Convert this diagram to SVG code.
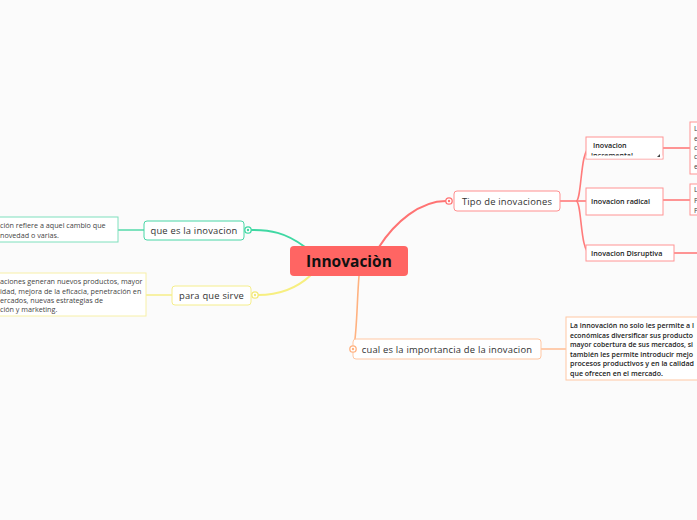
<svg xmlns="http://www.w3.org/2000/svg" width="697" height="520" viewBox="0 0 697 520">
<style>
text{font-family:"Open Sans","Noto Sans",sans-serif;fill:#333}
.t{font-size:9.4px;letter-spacing:0.2px}
.s{font-size:7.2px;fill:#444}
.sb{font-size:7.2px;font-weight:600;fill:#222}
.red{fill:#fff;stroke:#ff9494;stroke-width:1}
.rl{fill:none;stroke:#ff7b7b;stroke-width:1.6}
</style>
<rect width="697" height="520" fill="#fbfbfb"/>
<g id="connectors" fill="none">
<path d="M379 247 C395 222,420 201,446 201" stroke="#ff7373" stroke-width="2"/>
<path d="M305 247 C285 232,270 230,251 230" stroke="#3fd8a3" stroke-width="2"/>
<path d="M311 275 C295 290,275 295,258 295" stroke="#f7ef80" stroke-width="2"/>
<path d="M359 276 C357 300,357 330,354 346" stroke="#ffb280" stroke-width="1.6"/>
<path d="M560 201 L576 201" class="rl"/>
<path d="M576 201 C582 201,580 148,590 148 L586 148" class="rl"/>
<path d="M576 201 L586 201" class="rl"/>
<path d="M576 201 C582 201,580 253,590 253 L586 253" class="rl"/>
<path d="M663 148 L690 148" class="rl"/>
<path d="M663 200 L690 200" class="rl"/>
<path d="M674 253 L697 253" class="rl"/>
<path d="M541 349 L566 349" stroke="#ffc09a" stroke-width="1.6"/>
<path d="M144 230 L118 230" stroke="#5fdcb0" stroke-width="1.6"/>
<path d="M172 295 L146 295" stroke="#f7ef90" stroke-width="1.6"/>
</g>
<g id="center">
<rect x="290" y="246" width="118" height="30" rx="4" fill="#ff6563"/>
<text x="349" y="267" text-anchor="middle" style="font-size:15.5px;font-weight:bold;fill:#111">Innovaciòn</text>
</g>
<g id="tipo">
<rect x="454" y="191" width="106" height="20" rx="3" fill="#fff" stroke="#ff8f8f"/>
<circle cx="449" cy="201" r="3.2" fill="#fff" stroke="#ff7373" stroke-width="1.3"/>
<circle cx="449" cy="201" r="1.2" fill="#ff7373"/>
<text x="507" y="204.5" text-anchor="middle" class="t">Tipo de inovaciones</text>
</g>
<g id="incremental">
<rect x="586" y="137" width="77" height="22" class="red"/>
<text x="593" y="147.5" class="sb">Inovacion</text>
<text x="591" y="157.5" class="sb">incremental</text>
<rect x="586.5" y="155.5" width="76" height="3" fill="#fff"/>
<path d="M660 154 L660 157 L657 157 Z" fill="#444"/>
</g>
<g id="incremental-note">
<rect x="690" y="122" width="20" height="52" class="red"/>
<text x="694" y="131" class="s">L</text>
<text x="694" y="141" class="s">e</text>
<text x="694" y="150" class="s">c</text>
<text x="694" y="159" class="s">c</text>
<text x="694" y="169" class="s">e</text>
</g>
<g id="radical">
<rect x="586" y="188" width="77" height="27" class="red"/>
<text x="591" y="204" class="sb">Inovacion radical</text>
</g>
<g id="radical-note">
<rect x="690" y="184" width="20" height="31" class="red"/>
<text x="694" y="192" class="s">L</text>
<text x="694" y="203" class="s">P</text>
<text x="694" y="213" class="s">P</text>
</g>
<g id="disruptiva">
<rect x="586" y="245" width="88" height="16" class="red"/>
<text x="591" y="256" class="sb">Inovacion Disruptiva</text>
</g>
<g id="que-es">
<rect x="144" y="221" width="100" height="19" rx="3" fill="#fff" stroke="#49d6a6"/>
<circle cx="248" cy="230" r="3.2" fill="#fff" stroke="#3fd8a3" stroke-width="1.3"/>
<circle cx="248" cy="230" r="1.2" fill="#3fd8a3"/>
<text x="194" y="234" text-anchor="middle" class="t">que es la inovacion</text>
</g>
<g id="que-es-note">
<rect x="-5" y="217" width="123" height="25" fill="#fff" stroke="#7fe0bd"/>
<text x="0" y="228" class="s">ción refiere a aquel cambio que</text>
<text x="0" y="238" class="s">novedad o varias.</text>
</g>
<g id="para-que">
<rect x="172" y="286" width="79" height="19" rx="3" fill="#fff" stroke="#f5ee8c"/>
<circle cx="255" cy="295" r="3.2" fill="#fff" stroke="#f2e97a" stroke-width="1.3"/>
<circle cx="255" cy="295" r="1.2" fill="#f2e97a"/>
<text x="211.5" y="299" text-anchor="middle" class="t">para que sirve</text>
</g>
<g id="para-que-note">
<rect x="-5" y="273" width="151" height="43" fill="#fff" stroke="#f7f0a8"/>
<text x="0" y="284" class="s">aciones generan nuevos productos, mayor</text>
<text x="0" y="294" class="s">idad, mejora de la eficacia, penetración en</text>
<text x="0" y="303" class="s">ercados, nuevas estrategias de</text>
<text x="0" y="312" class="s">ción y marketing.</text>
</g>
<g id="importancia">
<rect x="353" y="339" width="188" height="20" rx="3" fill="#fff" stroke="#ffc7a3"/>
<circle cx="353" cy="349" r="3.2" fill="#fff" stroke="#ffb280" stroke-width="1.3"/>
<circle cx="353" cy="349" r="1.2" fill="#ffb280"/>
<text x="447" y="353" text-anchor="middle" class="t">cual es la importancia de la inovacion</text>
</g>
<g id="importancia-note">
<rect x="566" y="317" width="140" height="63" fill="#fff" stroke="#ffc7a3"/>
<text x="570" y="328" class="sb" textLength="124" lengthAdjust="spacingAndGlyphs">La innovación no solo les permite a l</text>
<text x="570" y="338" class="sb" textLength="123" lengthAdjust="spacingAndGlyphs">económicas diversificar sus producto</text>
<text x="570" y="347" class="sb" textLength="123" lengthAdjust="spacingAndGlyphs">mayor cobertura de sus mercados, si</text>
<text x="570" y="357" class="sb" textLength="123" lengthAdjust="spacingAndGlyphs">también les permite introducir mejo</text>
<text x="570" y="366" class="sb" textLength="124" lengthAdjust="spacingAndGlyphs">procesos productivos y en la calidad</text>
<text x="570" y="376" class="sb" textLength="93" lengthAdjust="spacingAndGlyphs">que ofrecen en el mercado.</text>
</g>
</svg>
